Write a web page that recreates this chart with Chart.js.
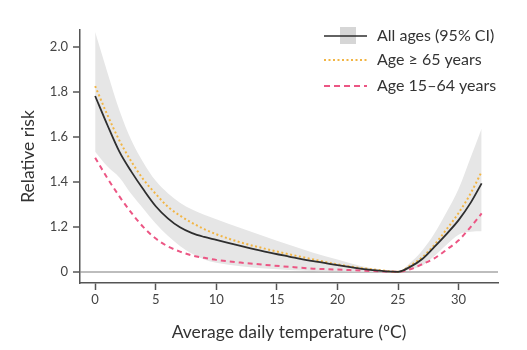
<!DOCTYPE html>
<html>
<head>
<meta charset="utf-8">
<script src="https://cdn.jsdelivr.net/npm/chart.js@4.4.0/dist/chart.umd.min.js"></script>
<style>
  body { margin: 0; background: #fff; }
</style>
</head>
<body>
<canvas id="rrChart" width="527" height="350"></canvas>
<script>
// temperature grid (ºC) and relative risk
const temps     = [0, 1, 2, 3, 4, 5, 6, 7, 8, 9, 10, 12, 14, 16, 18, 20, 22, 23, 24, 25, 26, 27, 28, 29, 30, 31, 31.9];
const allAges   = [1.783, 1.655, 1.535, 1.445, 1.365, 1.292, 1.238, 1.198, 1.172, 1.155, 1.142, 1.115, 1.09, 1.068, 1.047, 1.03, 1.013, 1.007, 1.002, 1.0, 1.022, 1.057, 1.111, 1.168, 1.23, 1.308, 1.394];
const age65     = [1.827, 1.70, 1.585, 1.49, 1.41, 1.347, 1.29, 1.25, 1.218, 1.19, 1.167, 1.131, 1.103, 1.078, 1.055, 1.033, 1.016, 1.01, 1.004, 1.0, 1.027, 1.065, 1.12, 1.189, 1.262, 1.35, 1.446];
const age15to64 = [1.508, 1.418, 1.336, 1.262, 1.198, 1.148, 1.113, 1.09, 1.073, 1.062, 1.053, 1.041, 1.031, 1.022, 1.014, 1.01, 1.005, 1.003, 1.001, 1.0, 1.011, 1.034, 1.06, 1.098, 1.14, 1.2, 1.26];
const ciUpper   = [2.068, 1.89, 1.72, 1.585, 1.485, 1.405, 1.35, 1.308, 1.277, 1.254, 1.234, 1.195, 1.157, 1.12, 1.085, 1.055, 1.025, 1.014, 1.005, 1.0, 1.04, 1.095, 1.17, 1.265, 1.37, 1.51, 1.638];
const ciLower   = [1.535, 1.47, 1.42, 1.345, 1.28, 1.215, 1.16, 1.115, 1.08, 1.055, 1.04, 1.025, 1.015, 1.008, 1.004, 1.002, 1.0, 1.0, 1.0, 1.0, 1.01, 1.028, 1.07, 1.12, 1.165, 1.178, 1.18];

const xTicks = [0, 5, 10, 15, 20, 25, 30];
const yTicks = [1.0, 1.2, 1.4, 1.6, 1.8, 2.0];
const yTickLabels = ['0', '1.2', '1.4', '1.6', '1.8', '2.0'];

const legendItems = [
    { label: 'All ages (95% CI)', color: '#2e2e2e', dash: [], box: true },
    { label: 'Age \u2265 65 years', color: '#f2b544', dash: [2, 2.5], box: false },
    { label: 'Age 15\u201364 years', color: '#ec5684', dash: [6, 4], box: false },
];

const FONT = 'Lato, "DejaVu Sans", sans-serif';

function pts(values) {
    return temps.map((t, i) => ({ x: t, y: values[i] }));
}

// legend drawn in the top-right corner of the plot
const cornerLegend = {
    id: 'cornerLegend',
    afterDraw(chart) {
        const ctx = chart.ctx;
        const x0 = 324, x1 = 367, textX = 377;
        const rows = [36, 60, 86];
        ctx.save();
        legendItems.forEach((item, i) => {
            const y = rows[i];
            if (item.box) {
                ctx.fillStyle = '#d6d6d6';
                ctx.fillRect(340, y - 9, 16, 17);
            }
            ctx.beginPath();
            ctx.setLineDash(item.dash);
            ctx.strokeStyle = item.color;
            ctx.lineWidth = item.box ? 1.6 : 2;
            ctx.moveTo(x0, y);
            ctx.lineTo(x1, y);
            ctx.stroke();
            ctx.setLineDash([]);
            ctx.fillStyle = '#333';
            ctx.font = '16px ' + FONT;
            ctx.textBaseline = 'middle';
            ctx.textAlign = 'left';
            ctx.fillText(item.label, textX, y);
        });
        ctx.restore();
    }
};

const ctx = document.getElementById('rrChart').getContext('2d');
new Chart(ctx, {
    type: 'line',
    data: {
        datasets: [
            {
                label: 'All ages',
                data: pts(allAges),
                borderColor: '#2e2e2e',
                borderWidth: 1.8,
                fill: false,
                cubicInterpolationMode: 'monotone',
            },
            {
                label: 'Age >= 65 years',
                data: pts(age65),
                borderColor: '#f2b544',
                borderWidth: 2,
                borderDash: [2, 2.5],
                fill: false,
                cubicInterpolationMode: 'monotone',
            },
            {
                label: 'Age 15-64 years',
                data: pts(age15to64),
                borderColor: '#ec5684',
                borderWidth: 2,
                borderDash: [5, 4],
                fill: false,
                cubicInterpolationMode: 'monotone',
            },
            {
                label: '95% CI upper',
                data: pts(ciUpper),
                borderWidth: 0,
                borderColor: 'rgba(0,0,0,0)',
                backgroundColor: '#e6e6e6',
                fill: '+1',
                cubicInterpolationMode: 'monotone',
            },
            {
                label: '95% CI lower',
                data: pts(ciLower),
                borderWidth: 0,
                borderColor: 'rgba(0,0,0,0)',
                fill: false,
                cubicInterpolationMode: 'monotone',
            },
        ],
    },
    options: {
        responsive: false,
        animation: false,
        layout: { padding: { top: 30, right: 29, left: 0, bottom: 0 } },
        elements: { point: { radius: 0 } },
        plugins: {
            legend: { display: false },
            tooltip: { enabled: false },
        },
        scales: {
            x: {
                type: 'linear',
                min: -1.25,
                max: 33.25,
                afterBuildTicks: (s) => { s.ticks = xTicks.map((v) => ({ value: v })); },
                afterFit: (s) => { s.height = 67; },
                border: { display: true, color: '#555', width: 1.5 },
                grid: { drawOnChartArea: false, drawTicks: true, tickLength: 7, tickColor: '#555', tickWidth: 1.5 },
                ticks: { padding: 2, color: '#444', font: { family: FONT, size: 13 } },
                title: {
                    display: true,
                    text: 'Average daily temperature (ºC)',
                    color: '#333',
                    font: { family: FONT, size: 17.5 },
                    padding: { top: 0, bottom: 7 },
                },
            },
            y: {
                min: 0.95,
                max: 2.077,
                afterBuildTicks: (s) => { s.ticks = yTicks.map((v) => ({ value: v })); },
                afterFit: (s) => { s.width = 80; },
                border: { display: true, color: '#555', width: 1.5 },
                grid: {
                    drawOnChartArea: true,
                    drawTicks: true,
                    tickLength: 7,
                    tickColor: '#555',
                    tickWidth: 1.5,
                    color: (c) => (c.tick && c.tick.value === 1 ? '#bdbdbd' : 'rgba(0,0,0,0)'),
                    lineWidth: (c) => (c.tick && c.tick.value === 1 ? 2 : 0),
                },
                ticks: {
                    padding: 5,
                    color: '#444',
                    font: { family: FONT, size: 13 },
                    callback: (v, i) => yTickLabels[i],
                },
                title: {
                    display: true,
                    text: 'Relative risk',
                    color: '#333',
                    font: { family: FONT, size: 17.5 },
                    padding: { top: 18, bottom: 0 },
                },
            },
        },
    },
    plugins: [cornerLegend],
});
</script>
</body>
</html>
